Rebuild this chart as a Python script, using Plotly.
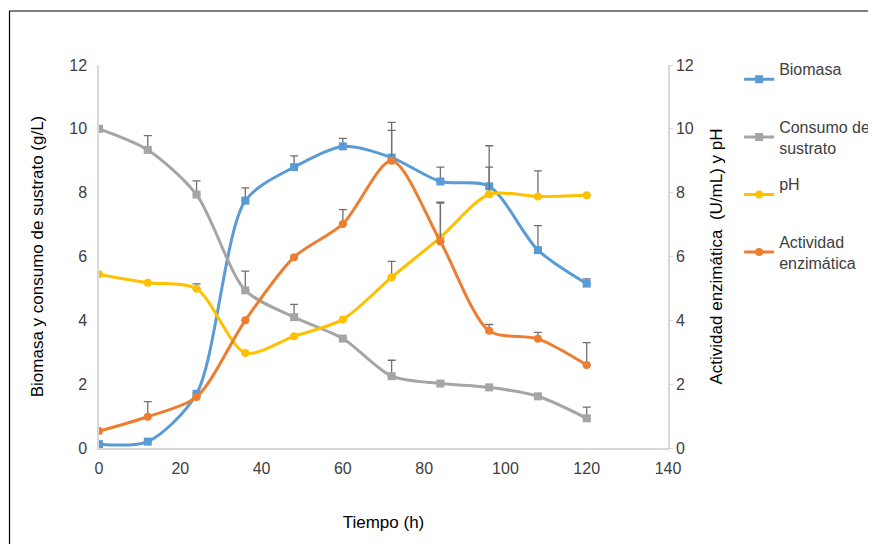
import plotly.graph_objects as go

tiempo = [0, 12, 24, 36, 48, 60, 72, 84, 96, 108, 120]

biomasa = [0.12, 0.2, 1.7, 7.75, 8.8, 9.45, 9.1, 8.35, 8.2, 6.2, 5.15]
biomasa_err = [0, 0, 0, 0.4, 0.35, 0.25, 0.85, 0.45, 1.27, 0.77, 0.15]

sustrato = [10.0, 9.34, 7.94, 4.94, 4.1, 3.43, 2.25, 2.02, 1.9, 1.62, 0.93]
sustrato_err = [0, 0.45, 0.43, 0.6, 0.4, 0, 0.5, 0, 0, 0, 0.35]

ph = [5.44, 5.18, 4.99, 2.98, 3.5, 4.03, 5.35, 6.6, 7.95, 7.88, 7.92]
ph_err = [0, 0, 0.15, 0, 0, 0, 0.5, 1.1, 0.85, 0.8, 0]

actividad = [0.53, 0.98, 1.6, 4.0, 5.98, 7.02, 9.0, 6.47, 3.67, 3.42, 2.6]
actividad_err = [0, 0.47, 0, 0, 0, 0.45, 1.2, 1.2, 0.2, 0.2, 0.7]

x_ticks = [0, 20, 40, 60, 80, 100, 120, 140]
y_ticks = [0, 2, 4, 6, 8, 10, 12]

FONT = "Liberation Sans, Arial, sans-serif"
ERR_COLOR = "#6f6f6f"
NB = "\u00a0"

def trace(name, y, err, color, symbol, yaxis="y"):
    return go.Scatter(
        x=tiempo, y=y, name=name, mode="lines+markers", yaxis=yaxis,
        legendgroup=name,
        line=dict(color=color, width=3, shape="spline", smoothing=0.8),
        marker=dict(color=color, size=8, symbol=symbol),
        error_y=dict(type="data", array=err, arrayminus=[0] * len(err),
                     symmetric=False, color=ERR_COLOR, thickness=1.3, width=4),
    )

fig = go.Figure()
fig.add_trace(trace("Biomasa<br>" + NB, biomasa, biomasa_err, "#5B9BD5", "square"))
fig.add_trace(trace("Consumo de<br>sustrato", sustrato, sustrato_err, "#A5A5A5", "square"))
fig.add_trace(trace("pH<br>" + NB, ph, ph_err, "#FFC000", "circle", "y2"))
fig.add_trace(trace("Actividad<br>enzimática", actividad, actividad_err, "#ED7D31", "circle", "y2"))

# plot area (figure coords): left 91, right 660, top 57, bottom 440
fig.update_layout(
    width=868, height=536,
    margin=dict(l=91, r=208, t=57, b=96, autoexpand=False),
    paper_bgcolor="white", plot_bgcolor="white",
    font=dict(family=FONT, size=16, color="#404040"),
    showlegend=True,
    legend=dict(x=1.125, y=1.034, xanchor="left", yanchor="top",
                font=dict(size=16, color="#404040"), tracegroupgap=13,
                itemwidth=30, bgcolor="rgba(0,0,0,0)"),
    xaxis=dict(range=[0, 140], tickvals=x_ticks, showgrid=False, zeroline=False,
               showline=True, linecolor="#d9d9d9", linewidth=1.5,
               ticks="", ticklabelstandoff=5, tickfont=dict(size=16, color="#404040"),
               title=dict(text="Tiempo (h)", font=dict(size=17, color="#000000"), standoff=40)),
    yaxis=dict(range=[0, 12], tickvals=y_ticks, showgrid=False, zeroline=False,
               showline=True, linecolor="#d9d9d9", linewidth=1.5, ticks="",
               ticklabelstandoff=7, tickfont=dict(size=16, color="#404040"),
               title=dict(text="Biomasa y consumo de sustrato (g/L)",
                          font=dict(size=17, color="#000000"), standoff=21)),
    yaxis2=dict(range=[0, 12], tickvals=y_ticks, overlaying="y", side="right",
                showgrid=False, zeroline=False, showline=True, linecolor="#d9d9d9",
                linewidth=1.5, ticks="outside", ticklen=3, tickcolor="#d9d9d9",
                tickfont=dict(size=16, color="#404040"),
                title=dict(text="Actividad enzimática  (U/mL) y pH",
                           font=dict(size=17, color="#000000"), standoff=17)),
    shapes=[dict(type="rect", xref="paper", yref="paper",
                 x0=-89.5 / 569, x1=1.6, y0=-0.4, y1=437 / 383,
                 line=dict(color="#000000", width=1.2), fillcolor="rgba(0,0,0,0)",
                 layer="below")],
)

fig.write_html("out.html")
